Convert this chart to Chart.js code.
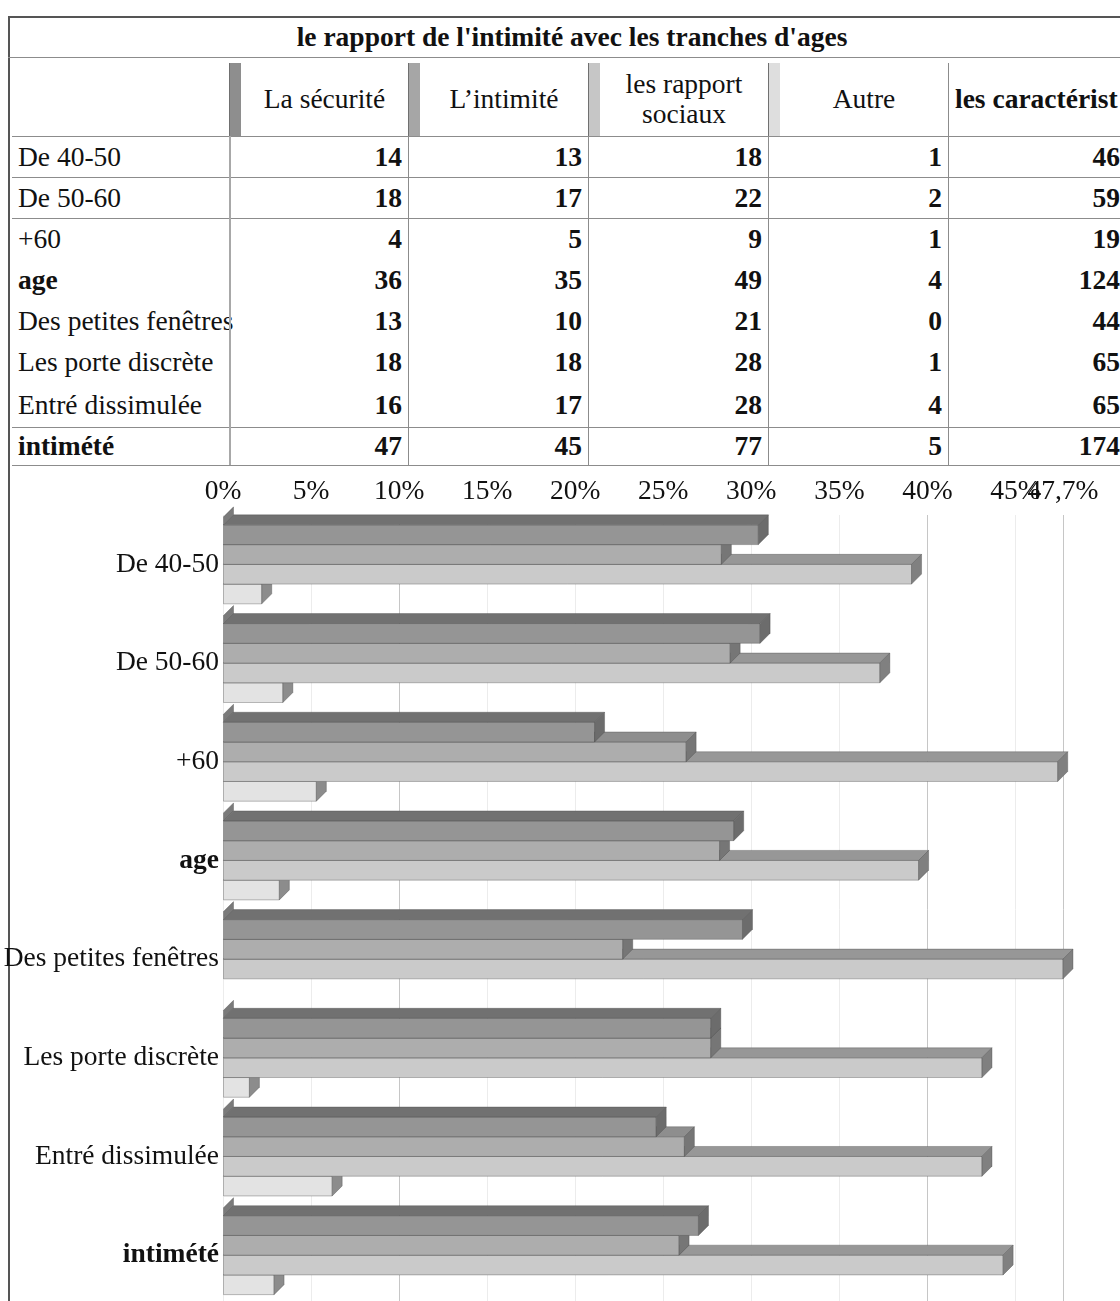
<!DOCTYPE html>
<html>
<head>
<meta charset="utf-8">
<script src="https://cdn.jsdelivr.net/npm/chart.js@4.4.1/dist/chart.umd.min.js"></script>
<style>
  html, body { margin: 0; padding: 0; background: #fff; }
  body { width: 1120px; height: 1301px; overflow: hidden; position: relative;
         font-family: 'Liberation Serif', 'Times New Roman', serif; color: #111; }
  #frame { position: absolute; left: 8px; top: 16px; width: 1200px; height: 1400px;
           border-left: 2px solid #555; border-top: 2px solid #555; }
  #sheet { position: absolute; left: 0; top: 0; width: 1120px; height: 470px; }
  .t { position: absolute; font-size: 27.5px; white-space: nowrap; }
  .ln { position: absolute; background: #8c8c8c; }
  #chart { position: absolute; left: 0; top: 465px; }
</style>
</head>
<body>
<div id="frame"></div>
<div id="sheet"></div>
<canvas id="chart" width="1120" height="860"></canvas>
<script>
// ------------------------------------------------------
// @Data
// ------------------------------------------------------

const title       = "le rapport de l'intimité avec les tranches d'ages";
const seriesNames = ['La sécurité', 'L’intimité', 'les rapport sociaux', 'Autre'];
const lastColumn  = 'les caractérist';
const categories  = ['De 40-50', 'De 50-60', '+60', 'age', 'Des petites fenêtres',
                     'Les porte discrète', 'Entré dissimulée', 'intimété'];
const boldRows    = ['age', 'intimété'];

// counts shown in the table
const countSecurite = [14, 18, 4, 36, 13, 18, 16, 47];
const countIntimite = [13, 17, 5, 35, 10, 18, 17, 45];
const countRapport  = [18, 22, 9, 49, 21, 28, 28, 77];
const countAutre    = [1, 2, 1, 4, 0, 1, 4, 5];
const countTotal    = [46, 59, 19, 124, 44, 65, 65, 174];

// percentages drawn as bars
const pctSecurite = [30.4, 30.5, 21.1, 29.0, 29.5, 27.7, 24.6, 27.0];
const pctIntimite = [28.3, 28.8, 26.3, 28.2, 22.7, 27.7, 26.2, 25.9];
const pctRapport  = [39.1, 37.3, 47.4, 39.5, 47.7, 43.1, 43.1, 44.3];
const pctAutre    = [2.2, 3.4, 5.3, 3.2, 0, 1.5, 6.2, 2.9];

const xTicks = [0, 5, 10, 15, 20, 25, 30, 35, 40, 45, 47.7];

// ------------------------------------------------------
// @Table
// ------------------------------------------------------

const colX = [8, 229, 408, 588, 768, 948, 1128];
const rowY = [136, 177, 218, 259, 300, 341, 382, 427, 465];
const headTop = 57, headBottom = 136;
const swatchC = ['#8e8e8e', '#a6a6a6', '#c6c6c6', '#dedede'];

const sheet = document.getElementById('sheet');

function put(cls, css, text) {
  const d = document.createElement('div');
  d.className = cls;
  Object.assign(d.style, css);
  if (text !== undefined) d.textContent = text;
  sheet.appendChild(d);
  return d;
}

put('t', { left: '8px', top: '16px', width: '1128px', height: '41px', lineHeight: '41px',
           textAlign: 'center', fontWeight: 'bold' }, title);

seriesNames.forEach((name, c) => {
  const x0 = colX[c + 1] + 12;
  const w = colX[c + 2] - x0;
  put('t', { left: x0 + 'px', top: (headTop + 2) + 'px', width: w + 'px', height: (headBottom - headTop) + 'px',
             display: 'flex', alignItems: 'center', justifyContent: 'center', textAlign: 'center',
             whiteSpace: 'normal', lineHeight: '30px' }, name);
  put('', { position: 'absolute', left: colX[c + 1] + 'px', top: (headTop + 6) + 'px', width: '11px',
            height: (headBottom - headTop - 6) + 'px', background: swatchC[c], borderLeft: '1px solid #707070' });
});
put('t', { left: '955px', top: (headTop + 2) + 'px', height: (headBottom - headTop) + 'px',
           lineHeight: (headBottom - headTop) + 'px', fontWeight: 'bold' }, lastColumn);

const columns = [countSecurite, countIntimite, countRapport, countAutre, countTotal];

categories.forEach((label, r) => {
  const top = rowY[r], h = rowY[r + 1] - rowY[r];
  const bold = boldRows.includes(label) ? 'bold' : 'normal';
  put('t', { left: '18px', top: top + 'px', height: h + 'px', lineHeight: h + 'px', fontWeight: bold }, label);
  columns.forEach((col, c) => {
    const right = Math.min(colX[c + 2] - 6, 1120);
    put('t', { left: colX[c + 1] + 'px', width: (right - colX[c + 1]) + 'px', top: top + 'px',
               height: h + 'px', lineHeight: h + 'px', textAlign: 'right', fontWeight: 'bold' }, String(col[r]));
  });
});

// grid lines of the table
put('ln', { left: '8px', top: headTop + 'px', width: '1112px', height: '1px' });
[headBottom, rowY[1], rowY[2], rowY[7], rowY[8]].forEach(y =>
  put('ln', { left: '12px', top: y + 'px', width: '1108px', height: '1px' }));
colX.slice(1, 6).forEach((x, i) => {
  put('ln', { left: x + 'px', top: headBottom + 'px', width: i === 0 ? '2px' : '1px',
              height: (rowY[8] - headBottom) + 'px', background: i === 0 ? '#a8a8a8' : '#8c8c8c' });
});
put('ln', { left: '948px', top: (headTop + 6) + 'px', width: '1px', height: (headBottom - headTop - 6) + 'px' });

// ------------------------------------------------------
// @Bar Chart (3D look)
// ------------------------------------------------------

const frontC = ['#959595', '#adadad', '#cacaca', '#e3e3e3'];
const topC   = ['#717171', '#8e8e8e', '#979797', '#b0b0b0'];
const sideC  = ['#6c6c6c', '#767676', '#808080', '#8c8c8c'];
const DX = 10, DY = 10;

function poly(ctx, pts, fill) {
  ctx.beginPath();
  ctx.moveTo(pts[0][0], pts[0][1]);
  for (let i = 1; i < pts.length; i++) ctx.lineTo(pts[i][0], pts[i][1]);
  ctx.closePath();
  ctx.fillStyle = fill;
  ctx.fill();
  ctx.strokeStyle = 'rgba(70,70,70,0.35)';
  ctx.lineWidth = 1;
  ctx.stroke();
}

const bars3d = {
  id: 'bars3d',
  beforeDatasetsDraw(chart) {
    const ctx = chart.ctx;
    ctx.save();
    for (let d = chart.data.datasets.length - 1; d >= 0; d--) {
      const meta = chart.getDatasetMeta(d);
      meta.data.forEach((bar) => {
        const left = bar.base, right = bar.x;
        const top = bar.y - bar.height / 2, bottom = bar.y + bar.height / 2;
        if (d === 0) {
          poly(ctx, [[left, top], [left, top - 8], [left + DX, top - 8 - DY], [left + DX, top - DY]], '#7a7a7a');
        }
        if (right - left < 0.5) return;
        poly(ctx, [[left, top], [right, top], [right, bottom], [left, bottom]], frontC[d]);
        poly(ctx, [[left, top], [left + DX, top - DY], [right + DX, top - DY], [right, top]], topC[d]);
        poly(ctx, [[right, top], [right + DX, top - DY], [right + DX, bottom - DY], [right, bottom]], sideC[d]);
      });
    }
    ctx.restore();
    return false;
  },
};

Chart.defaults.font.family = "'Liberation Serif', 'Times New Roman', serif";
Chart.defaults.font.size = 27.5;
Chart.defaults.color = '#111';

const chartBox = document.getElementById('chart');

new Chart(chartBox.getContext('2d'), {
  type: 'bar',
  data: {
    labels: categories,
    datasets: [
      { label: seriesNames[0], data: pctSecurite, backgroundColor: frontC[0] },
      { label: seriesNames[1], data: pctIntimite, backgroundColor: frontC[1] },
      { label: seriesNames[2], data: pctRapport,  backgroundColor: frontC[2] },
      { label: seriesNames[3], data: pctAutre,    backgroundColor: frontC[3] },
    ],
  },
  options: {
    indexAxis: 'y',
    responsive: false,
    animation: false,
    devicePixelRatio: 1,
    layout: { padding: { left: 0, right: 57, top: 0, bottom: 13 } },
    datasets: { bar: { categoryPercentage: 0.8, barPercentage: 1 } },
    plugins: { legend: { display: false }, tooltip: { enabled: false } },
    scales: {
      x: {
        position: 'top',
        min: 0,
        max: 47.7,
        afterBuildTicks: (s) => { s.ticks = xTicks.map(v => ({ value: v })); },
        afterFit: (s) => { s.height = 50; },
        ticks: {
          autoSkip: false, maxRotation: 0, minRotation: 0, padding: 7,
          callback: (v) => String(v).replace('.', ',') + '%',
        },
        grid: {
          drawTicks: false,
          color: (c) => [10, 40, 47.7].includes(c.tick && c.tick.value) ? '#c6c6c6' : '#ececec',
        },
        border: { display: false },
      },
      y: {
        afterFit: (s) => { s.width = 223; },
        grid: { display: false, drawTicks: false },
        border: { display: false },
        ticks: {
          padding: 4,
          font: (c) => ({ size: 27.5, weight: boldRows.includes(categories[c.index]) ? 'bold' : 'normal' }),
        },
      },
    },
  },
  plugins: [bars3d],
});
</script>
</body>
</html>
